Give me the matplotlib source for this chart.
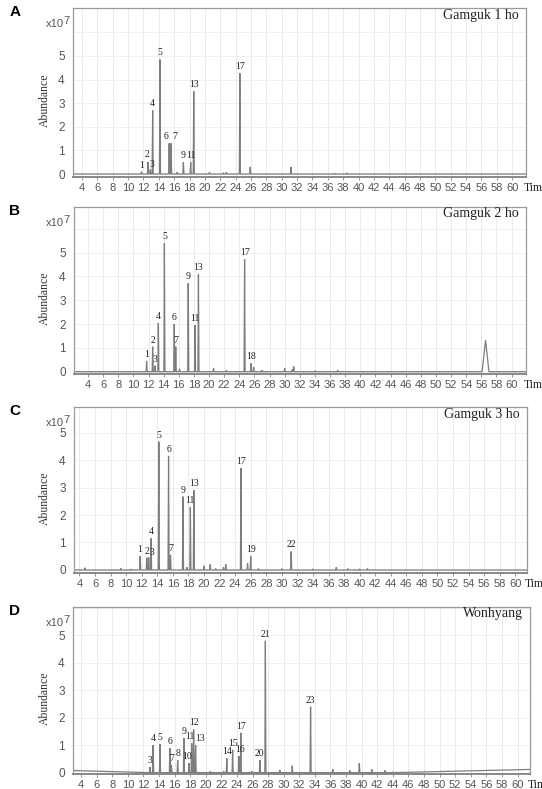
import numpy as np
import matplotlib
matplotlib.use("Agg")
import matplotlib.pyplot as plt

W, H = 542, 789

# ---------------- data (retention time [min], abundance [x10^7]) ----------------
rt_A = [11.75, 12.6, 12.9, 13.2, 14.15, 15.35, 15.6, 16.4, 17.2, 18.15, 18.55, 20.6, 22.4, 22.8, 24.55, 25.9, 31.2, 37.0, 38.5]
h_A = [0.1, 0.5, 0.2, 2.7, 4.85, 1.3, 1.3, 0.08, 0.5, 0.5, 3.5, 0.08, 0.05, 0.08, 4.27, 0.3, 0.3, 0.03, 0.04]
lab_A = ['1', '2', '3', '4', '5', '6', '7', '', '9', '11', '13', '', '', '', '17', '', '', '', '']

rt_B = [11.75, 12.55, 12.85, 13.3, 14.1, 15.4, 15.6, 16.1, 17.25, 18.15, 18.6, 20.6, 22.3, 24.7, 25.55, 25.9,
        27.0, 30.0, 31.0, 31.2, 34.0, 37.0, 56.55]
h_B = [0.45, 1.05, 0.25, 2.05, 5.4, 2.0, 1.05, 0.12, 3.72, 1.96, 4.1, 0.15, 0.06, 4.72, 0.35, 0.2,
       0.06, 0.15, 0.1, 0.22, 0.04, 0.07, 1.33]
lab_B = ['1', '2', '3', '4', '5', '6', '7', '', '9', '11', '13', '', '', '17', '18', '',
         '', '', '', '', '', '', '']

rt_C = [4.7, 9.3, 10.6, 11.8, 12.65, 12.9, 13.2, 14.2, 15.45, 15.7, 17.3, 17.8, 18.25, 18.7, 20.0, 20.8, 21.5,
        22.5, 22.8, 24.75, 25.6, 26.0, 27.0, 30.0, 31.2, 34.0, 37.0, 38.5, 40.0, 41.0]
h_C = [0.08, 0.06, 0.03, 0.5, 0.45, 0.45, 1.15, 4.67, 4.15, 0.55, 2.67, 0.1, 2.28, 2.9, 0.15, 0.2, 0.05,
       0.1, 0.2, 3.7, 0.25, 0.5, 0.05, 0.05, 0.67, 0.04, 0.1, 0.05, 0.04, 0.05]
lab_C = ['', '', '', '1', '2', '3', '4', '5', '6', '7', '9', '', '11', '13', '', '', '',
         '', '', '17', '', '19', '', '', '22', '', '', '', '', '']

rt_D = [12.85, 13.25, 14.13, 15.4, 15.6, 16.4, 17.2, 17.85, 18.2, 18.45, 18.7, 20.6, 22.3, 22.7, 23.45, 24.25,
        24.5, 25.9, 26.95, 27.65, 29.5, 31.1, 33.45, 36.3, 38.5, 39.7, 41.3, 43.0, 44.0]
h_D = [0.2, 1.0, 1.04, 0.89, 0.28, 0.46, 1.25, 0.35, 1.07, 1.58, 1.0, 0.05, 0.05, 0.52, 0.83, 0.6,
       1.45, 0.05, 0.46, 4.8, 0.1, 0.25, 2.4, 0.12, 0.08, 0.35, 0.12, 0.08, 0.03]
lab_D = ['3', '4', '5', '6', '7', '8', '9', '10', '11', '12', '13', '', '', '14', '15', '16',
         '17', '', '20', '21', '', '', '23', '', '', '', '', '', '']
base_x_D = [2.9, 4.0, 50.0, 56.0, 62.0]
base_y_D = [0.08, 0.0, 0.0, 0.06, 0.12]

titles = ['Gamguk 1 ho', 'Gamguk 2 ho', 'Gamguk 3 ho', 'Wonhyang']
letters = ['A', 'B', 'C', 'D']
xticks = list(range(4, 61, 2))
yticks = [0, 1, 2, 3, 4, 5]

# ---------------- layout (pixels) ----------------
def fx(x):
    return x / W

def fy(y):
    return 1 - y / H

panels = [
    dict(rt=rt_A, h=h_A, lab=lab_A, box=(73, 8, 526, 177), xlim=(2.83, 61.8), ylim=(-0.127, 7.03),
         widths={}, base=None, loff={'6': (-2.5, 0), '7': (2.5, 0), '2': (-1, 1), '3': (1, -1)}),
    dict(rt=rt_B, h=h_B, lab=lab_B, box=(74, 207, 526, 374), xlim=(2.15, 61.9), ylim=(-0.097, 6.92),
         widths={56.55: 0.45}, base=None, loff={}),
    dict(rt=rt_C, h=h_C, lab=lab_C, box=(74, 407, 527, 573), xlim=(3.3, 61.5), ylim=(-0.11, 5.93),
         widths={}, base=None, loff={'1': (-0.5, 0), '2': (0.5, 0), '3': (2.5, -1)}),
    dict(rt=rt_D, h=h_D, lab=lab_D, box=(73, 607, 530, 774), xlim=(2.97, 61.6), ylim=(-0.05, 6.03),
         widths={}, base=(base_x_D, base_y_D),
         loff={'11': (-1.5, 0), '13': (3.5, 0), '10': (-1.5, 0), '16': (0.5, 0)}),
]

fig = plt.figure(figsize=(W / 100, H / 100), dpi=100)
fig.patch.set_facecolor('white')

sans = ['Liberation Sans', 'DejaVu Sans']
serif = ['Liberation Serif', 'DejaVu Serif']
grey_txt = '#555555'
line_col = '#7d7d7d'

for i, p in enumerate(panels):
    x0, y0, x1, y1 = p['box']
    ax = fig.add_axes([fx(x0), fy(y1), (x1 - x0) / W, (y1 - y0) / H])
    ax.set_xlim(*p['xlim'])
    ax.set_ylim(*p['ylim'])

    # build trace from the peak list (each peak drawn as a narrow triangle)
    pts = [(p['xlim'][0], 0.0), (p['xlim'][1], 0.0)]
    for r, hh in zip(p['rt'], p['h']):
        w = p['widths'].get(r, 0.07)
        pts += [(r - w, 0.0), (r, hh), (r + w, 0.0)]
    pts.sort(key=lambda t: t[0])
    tx = np.array([t[0] for t in pts])
    ty = np.array([t[1] for t in pts])
    if p['base'] is not None:
        ty = ty + np.interp(tx, p['base'][0], p['base'][1])
    ax.plot(tx, ty, color=line_col, lw=0.9, solid_joinstyle='miter')

    # peak labels
    for r, hh, lb in zip(p['rt'], p['h'], p['lab']):
        if lb:
            dx, dy = p['loff'].get(lb, (0, 0))
            ax.annotate(lb, (r, hh), xytext=(dx, 1.5 + dy), textcoords='offset points',
                        ha='center', va='bottom', fontsize=7, family=serif, color='#222222')

    # grid
    for xv in xticks:
        ax.axvline(xv, color='#e6e6e6', lw=0.6, zorder=0)
    for yv in range(0, 7):
        ax.axhline(yv, color='#ececec', lw=0.6, zorder=0)

    ax.set_xticks(xticks)
    ax.set_xticklabels([str(v) for v in xticks], fontsize=8, color=grey_txt, family=sans)
    ax.set_yticks(yticks)
    ax.set_yticklabels([str(v) for v in yticks], fontsize=8.5, color=grey_txt, family=sans)
    ax.tick_params(axis='x', length=2, width=0.6, color='#888888', pad=2)
    ax.tick_params(axis='y', length=0, pad=6)
    for s in ['top', 'right', 'left']:
        ax.spines[s].set_color('#9a9a9a')
        ax.spines[s].set_linewidth(0.9)
    ax.spines['bottom'].set_color('#808080')
    ax.spines['bottom'].set_linewidth(1.3)

    # title inside box
    ax.text(fx(x1 - 7), fy(y0 + 7), titles[i], transform=fig.transFigure, ha='right', va='center',
            fontsize=10, family=serif, color='#222222')
    # panel letter
    fig.text(fx(15), fy(y0 + 4), letters[i], ha='center', va='center', fontsize=11,
             fontweight='bold', family=sans, color='black')
    # x10^7
    fig.text(fx(46), fy(y0 + 16), 'x10', ha='left', va='center', fontsize=8, family=sans, color=grey_txt)
    fig.text(fx(63), fy(y0 + 13), '7', ha='left', va='center', fontsize=8, family=sans, color=grey_txt)
    # Abundance
    fig.text(fx(45), fy((y0 + y1) / 2 + 8), 'Abundance', rotation=90, ha='center', va='center',
             fontsize=8.5, family=serif, color='#333333')
    # Time (clipped at the figure edge, as in the reference)
    fig.text(fx(x1 - 2), fy(y1 + 11), 'Time', ha='left', va='center', fontsize=8.5,
             family=serif, color='#222222')

fig.savefig('out.png', dpi=100, facecolor='white')
